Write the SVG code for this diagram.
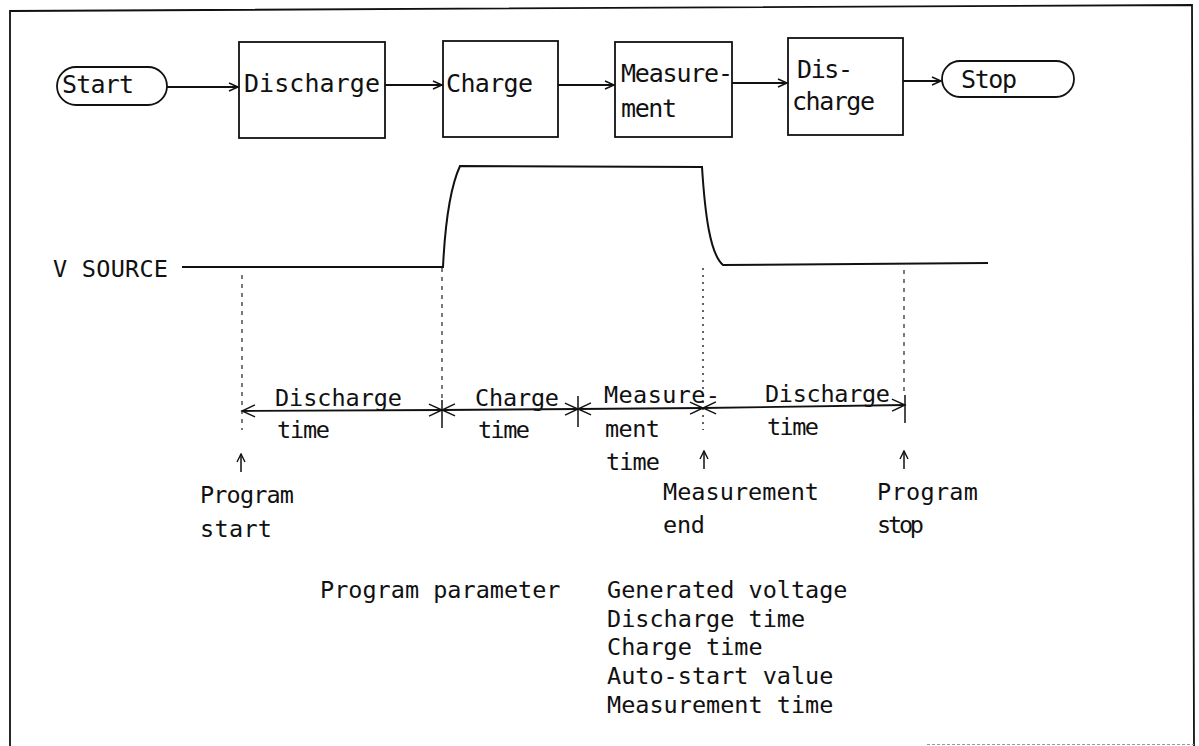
<svg xmlns="http://www.w3.org/2000/svg" width="1199" height="746" viewBox="0 0 1199 746">
<style>
  .t { font-family: "DejaVu Sans Mono", "Liberation Mono", monospace; font-size: 25px; fill: #111; }
  .s { font-family: "DejaVu Sans Mono", "Liberation Mono", monospace; font-size: 23.5px; fill: #111; }
  .box { fill: #fff; stroke: #111; stroke-width: 1.8; }
  .con { fill: none; stroke: #111; stroke-width: 1.8; }
  .wave { fill: none; stroke: #111; stroke-width: 2; }
  .dash { fill: none; stroke: #222; stroke-width: 1.2; stroke-dasharray: 4 5; }
  .dot { fill: none; stroke: #222; stroke-width: 1.4; stroke-dasharray: 2 5; }
  .tick { fill: none; stroke: #111; stroke-width: 1.5; }
  .dim { fill: none; stroke: #111; stroke-width: 1.8; }
  .frame { fill: none; stroke: #111; stroke-width: 1.8; }
</style>
<defs>
  <marker id="ah" markerUnits="userSpaceOnUse" markerWidth="12" markerHeight="10" refX="10" refY="5" orient="auto" viewBox="0 0 12 10">
    <path d="M1,1 L10,5 L1,9" fill="none" stroke="#111" stroke-width="1.5"/>
  </marker>
  <marker id="dh" markerUnits="userSpaceOnUse" markerWidth="16" markerHeight="14" refX="14" refY="7" orient="auto-start-reverse" viewBox="0 0 16 14">
    <path d="M1,1 L14,7 L1,13" fill="none" stroke="#111" stroke-width="1.4"/>
  </marker>
  <marker id="uh" markerUnits="userSpaceOnUse" markerWidth="10" markerHeight="10" refX="9" refY="5" orient="auto" viewBox="0 0 10 10">
    <path d="M1,1 L9,5 L1,9" fill="none" stroke="#111" stroke-width="1.4"/>
  </marker>
</defs>

<!-- frame -->
<g id="frame">
  <polyline class="frame" points="10,746 10,11 1192,5 1194,746"/>
  <line x1="927" y1="744.5" x2="1194" y2="744.5" stroke="#999" stroke-width="1" stroke-dasharray="3 2"/>
</g>

<!-- flow nodes -->
<g id="node-start">
  <rect class="box" x="57" y="67" width="110" height="38" rx="19" ry="19"/>
  <text class="t" x="62" y="93" textLength="72">Start</text>
</g>
<g id="node-discharge">
  <rect class="box" x="239" y="42" width="146" height="96"/>
  <text class="t" x="244" y="92" textLength="136">Discharge</text>
</g>
<g id="node-charge">
  <rect class="box" x="443" y="41" width="115" height="96"/>
  <text class="t" x="446" y="92" textLength="87">Charge</text>
</g>
<g id="node-measurement">
  <rect class="box" x="615" y="42" width="117" height="95"/>
  <text class="t" x="621" y="82" textLength="112">Measure-</text>
  <text class="t" x="621" y="117" textLength="56">ment</text>
</g>
<g id="node-discharge2">
  <rect class="box" x="788" y="38" width="115" height="97"/>
  <text class="t" x="797" y="78" textLength="56">Dis-</text>
  <text class="t" x="792" y="110" textLength="83">charge</text>
</g>
<g id="node-stop">
  <rect class="box" x="942" y="61" width="132" height="36" rx="18" ry="18"/>
  <text class="t" x="961" y="88" textLength="56">Stop</text>
</g>

<!-- connectors -->
<g id="connectors">
  <line class="con" x1="167" y1="87" x2="238" y2="87" marker-end="url(#ah)"/>
  <line class="con" x1="385" y1="85" x2="442" y2="85" marker-end="url(#ah)"/>
  <line class="con" x1="558" y1="85" x2="614" y2="85" marker-end="url(#ah)"/>
  <line class="con" x1="732" y1="83" x2="787" y2="83" marker-end="url(#ah)"/>
  <line class="con" x1="903" y1="81" x2="941" y2="81" marker-end="url(#ah)"/>
</g>

<!-- waveform -->
<g id="waveform">
  <text class="s" x="53" y="277" textLength="115">V SOURCE</text>
  <path class="wave" d="M182,267 L443,267 C445,226 449,190 460,166 L702,167 C705,214 710,254 723,265 L988,263"/>
</g>

<!-- guide lines -->
<g id="guides">
  <line class="dash" x1="242" y1="275" x2="242" y2="430"/>
  <line class="dash" x1="442" y1="268" x2="442" y2="400"/>
  <line class="tick" x1="442" y1="400" x2="442" y2="428"/>
  <line class="tick" x1="578" y1="396" x2="578" y2="427"/>
  <line class="dot" x1="703" y1="268" x2="703" y2="430"/>
  <line class="dash" x1="904" y1="270" x2="904" y2="395"/>
  <line class="tick" x1="905" y1="395" x2="905" y2="423"/>
</g>

<!-- dimension arrows -->
<g id="dimensions">
  <line class="dim" x1="242" y1="411" x2="442" y2="410" marker-start="url(#dh)" marker-end="url(#dh)"/>
  <line class="dim" x1="442" y1="410" x2="578" y2="409" marker-start="url(#dh)" marker-end="url(#dh)"/>
  <line class="dim" x1="578" y1="409" x2="703" y2="408" marker-start="url(#dh)" marker-end="url(#dh)"/>
  <line class="dim" x1="703" y1="408" x2="905" y2="405" marker-start="url(#dh)" marker-end="url(#dh)"/>
  <line class="tick" x1="241" y1="472" x2="241" y2="454" marker-end="url(#uh)"/>
  <line class="tick" x1="704" y1="469" x2="704" y2="451" marker-end="url(#uh)"/>
  <line class="tick" x1="904" y1="469" x2="904" y2="451" marker-end="url(#uh)"/>
</g>

<!-- timing labels -->
<g id="labels">
  <text class="s" x="275" y="406" textLength="127">Discharge</text>
  <text class="s" x="277" y="438" textLength="53">time</text>
  <text class="s" x="475" y="406" textLength="84">Charge</text>
  <text class="s" x="478" y="438" textLength="52">time</text>
  <text class="s" x="604" y="403" textLength="116">Measure-</text>
  <text class="s" x="605" y="437" textLength="55">ment</text>
  <text class="s" x="606" y="470" textLength="54">time</text>
  <text class="s" x="765" y="402" textLength="125">Discharge</text>
  <text class="s" x="767" y="435" textLength="52">time</text>
  <text class="s" x="200" y="503" textLength="94">Program</text>
  <text class="s" x="200" y="537" textLength="72">start</text>
  <text class="s" x="663" y="500" textLength="156">Measurement</text>
  <text class="s" x="663" y="533" textLength="42">end</text>
  <text class="s" x="877" y="500" textLength="101">Program</text>
  <text class="s" x="877" y="533" textLength="47">stop</text>
</g>

<!-- parameter list -->
<g id="parameters">
  <text class="s" x="320" y="598">Program parameter</text>
  <text class="s" x="607" y="598">Generated voltage</text>
  <text class="s" x="607" y="627">Discharge time</text>
  <text class="s" x="607" y="655">Charge time</text>
  <text class="s" x="607" y="684">Auto-start value</text>
  <text class="s" x="607" y="713">Measurement time</text>
</g>
</svg>
